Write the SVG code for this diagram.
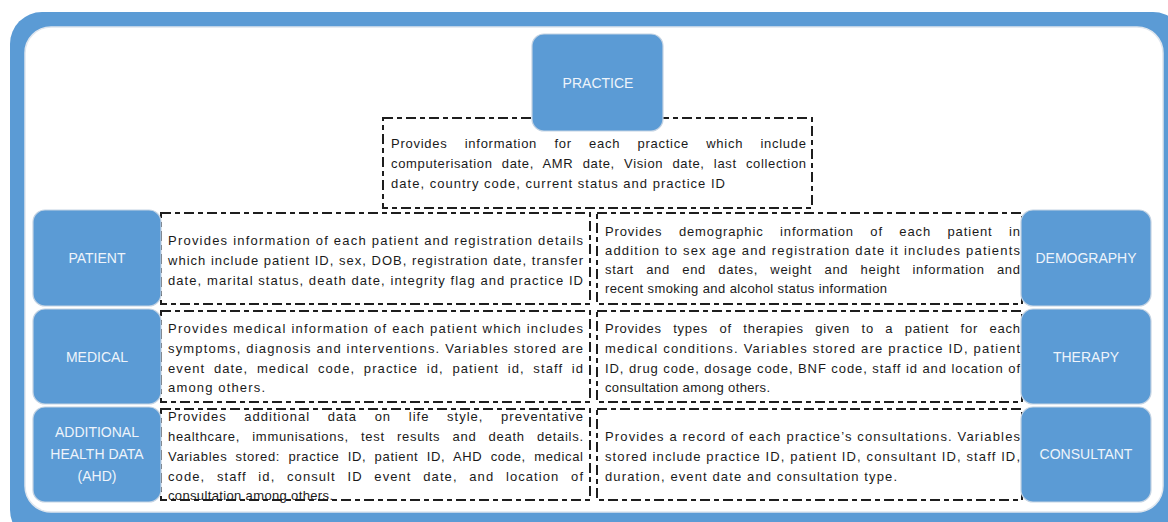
<svg xmlns="http://www.w3.org/2000/svg" width="1168" height="522" viewBox="0 0 1168 522">
<style>
.node{fill:#5B9BD5;stroke:#c4d3e3;stroke-width:1.2}
.lbl{font-family:"Liberation Sans",Arial,sans-serif;font-size:14px;fill:#EEF4FB;text-anchor:middle}
.desc{fill:#ffffff;stroke:#1e1e1e;stroke-width:2;stroke-dasharray:10 4 5 4}
.t{font-family:"Liberation Sans",Arial,sans-serif;font-size:13px;fill:#1a1a1a}
</style>
<rect x="10" y="12" width="1175" height="530" rx="32" fill="#5B9BD5"/>
<rect x="25" y="27" width="1138" height="485" rx="26" fill="#ffffff" stroke="#dfe6ee" stroke-width="1.5"/>

<g id="connectors">
<rect class="desc" x="383" y="118" width="429" height="90"/>
<rect class="desc" x="161" y="213" width="429" height="91"/>
<rect class="desc" x="597" y="213" width="425" height="91"/>
<rect class="desc" x="161" y="311" width="429" height="91"/>
<rect class="desc" x="597" y="311" width="425" height="91"/>
<rect class="desc" x="161" y="409" width="429" height="91"/>
<rect class="desc" x="597" y="409" width="425" height="91"/>
</g>

<g id="practice-desc">
<text class="t" x="391" y="148" word-spacing="13" textLength="415" lengthAdjust="spacing">Provides information for each practice which include</text>
<text class="t" x="391" y="168" word-spacing="5" textLength="415" lengthAdjust="spacing">computerisation date, AMR date, Vision date, last collection</text>
<text class="t" x="391" y="188" textLength="334" lengthAdjust="spacing">date, country code, current status and practice ID</text>
</g>
<g id="patient-desc">
<text class="t" x="168" y="245" textLength="415" lengthAdjust="spacing">Provides information of each patient and registration details</text>
<text class="t" x="168" y="265" textLength="415" lengthAdjust="spacing">which include patient ID, sex, DOB, registration date, transfer</text>
<text class="t" x="168" y="285" textLength="415" lengthAdjust="spacing">date, marital status, death date, integrity flag and practice ID</text>
</g>
<g id="demography-desc">
<text class="t" x="605" y="236" word-spacing="12" textLength="415" lengthAdjust="spacing">Provides demographic information of each patient in</text>
<text class="t" x="605" y="255" textLength="415" lengthAdjust="spacing">addition to sex age and registration date it includes patients</text>
<text class="t" x="605" y="274" word-spacing="8" textLength="415" lengthAdjust="spacing">start and end dates, weight and height information and</text>
<text class="t" x="605" y="293" textLength="282" lengthAdjust="spacing">recent smoking and alcohol status information</text>
</g>
<g id="medical-desc">
<text class="t" x="168" y="333" textLength="415" lengthAdjust="spacing">Provides medical information of each patient which includes</text>
<text class="t" x="168" y="353" textLength="415" lengthAdjust="spacing">symptoms, diagnosis and interventions. Variables stored are</text>
<text class="t" x="168" y="373" word-spacing="4" textLength="415" lengthAdjust="spacing">event date, medical code, practice id, patient id, staff id</text>
<text class="t" x="168" y="392" textLength="97" lengthAdjust="spacing">among others.</text>
</g>
<g id="therapy-desc">
<text class="t" x="605" y="333" word-spacing="7" textLength="415" lengthAdjust="spacing">Provides types of therapies given to a patient for each</text>
<text class="t" x="605" y="353" textLength="415" lengthAdjust="spacing">medical conditions. Variables stored are practice ID, patient</text>
<text class="t" x="605" y="373" textLength="415" lengthAdjust="spacing">ID, drug code, dosage code, BNF code, staff id and location of</text>
<text class="t" x="605" y="392" textLength="165" lengthAdjust="spacing">consultation among others.</text>
</g>
<g id="ahd-desc">
<text class="t" x="168" y="421" word-spacing="13" textLength="415" lengthAdjust="spacing">Provides additional data on life style, preventative</text>
<text class="t" x="168" y="441" word-spacing="8" textLength="415" lengthAdjust="spacing">healthcare, immunisations, test results and death details.</text>
<text class="t" x="168" y="461" word-spacing="4" textLength="415" lengthAdjust="spacing">Variables stored: practice ID, patient ID, AHD code, medical</text>
<text class="t" x="168" y="481" word-spacing="7" textLength="415" lengthAdjust="spacing">code, staff id, consult ID event date,  and location of</text>
<text class="t" x="168" y="500" textLength="165" lengthAdjust="spacing">consultation among others.</text>
</g>
<g id="consultant-desc">
<text class="t" x="605" y="441" textLength="415" lengthAdjust="spacing">Provides a record of each practice’s consultations. Variables</text>
<text class="t" x="605" y="461" textLength="415" lengthAdjust="spacing">stored include practice ID, patient ID,  consultant ID, staff ID,</text>
<text class="t" x="605" y="481" textLength="292" lengthAdjust="spacing">duration, event date and consultation type.</text>
</g>

<g id="practice"><rect class="node" x="532" y="34" width="131" height="97" rx="12"/><text class="lbl" x="598" y="88">PRACTICE</text></g>
<g id="patient"><rect class="node" x="33" y="210" width="128" height="96" rx="12"/><text class="lbl" x="97" y="263">PATIENT</text></g>
<g id="medical"><rect class="node" x="33" y="309" width="128" height="95" rx="12"/><text class="lbl" x="97" y="362">MEDICAL</text></g>
<g id="ahd"><rect class="node" x="33" y="407" width="128" height="95" rx="12"/><text class="lbl" x="97" y="437">ADDITIONAL</text><text class="lbl" x="97" y="459">HEALTH DATA</text><text class="lbl" x="97" y="481">(AHD)</text></g>
<g id="demography"><rect class="node" x="1021" y="210" width="130" height="96" rx="12"/><text class="lbl" x="1086" y="263">DEMOGRAPHY</text></g>
<g id="therapy"><rect class="node" x="1021" y="309" width="130" height="95" rx="12"/><text class="lbl" x="1086" y="362">THERAPY</text></g>
<g id="consultant"><rect class="node" x="1021" y="407" width="130" height="95" rx="12"/><text class="lbl" x="1086" y="459">CONSULTANT</text></g>
</svg>
